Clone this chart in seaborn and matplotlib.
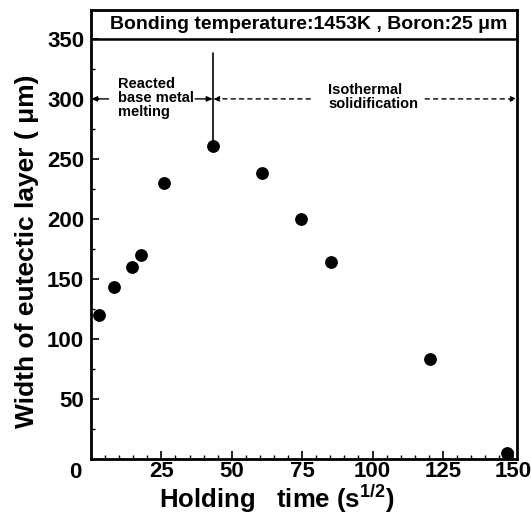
import matplotlib
matplotlib.use("Agg")
import matplotlib.pyplot as plt
import seaborn as sns
import pandas as pd
from matplotlib.ticker import MultipleLocator

# data
holding_time = [3.0, 8.2, 14.7, 17.9, 26.0, 43.3, 60.8, 74.6, 85.3, 120.5, 147.9]
width_um = [120, 143, 160, 170, 230, 261, 238, 200, 164, 83, 5]
x_ticks = [25, 50, 75, 100, 125, 150]
y_ticks = [50, 100, 150, 200, 250, 300, 350]
title_text = "Bonding temperature:1453K , Boron:25 \u03bcm"
boundary_time = 43.3
arrow_level = 300

sns.set_style("ticks")
plt.rcParams['font.family'] = ['Liberation Sans', 'DejaVu Sans']
plt.rcParams['font.weight'] = 'bold'
plt.rcParams['text.color'] = 'black'
plt.rcParams['axes.labelcolor'] = 'black'
plt.rcParams['xtick.color'] = 'black'
plt.rcParams['ytick.color'] = 'black'
plt.rcParams['mathtext.fontset'] = 'custom'
plt.rcParams['mathtext.rm'] = 'Liberation Sans:bold'
plt.rcParams['mathtext.it'] = 'Liberation Sans:bold'
plt.rcParams['mathtext.bf'] = 'Liberation Sans:bold'
plt.rcParams['mathtext.default'] = 'rm'

df = pd.DataFrame({"t": holding_time, "w": width_um})

fig = plt.figure(figsize=(5.31, 5.16), dpi=100)
ax = fig.add_axes([0.1714, 0.1105, 0.8022, 0.870])

sns.scatterplot(data=df, x="t", y="w", ax=ax, color="black", s=85,
                edgecolor="black", linewidth=0, zorder=5, clip_on=False)

ax.set_xlim(0, 151.3)
ax.set_ylim(0, 374)
ax.set_xticks(x_ticks)
ax.set_yticks(y_ticks)
ax.xaxis.set_minor_locator(MultipleLocator(5))
ax.yaxis.set_minor_locator(MultipleLocator(25))
ax.tick_params(which='both', direction='in', top=False, right=False,
               color='black', labelsize=16, labelcolor='black')
ax.tick_params(which='major', length=6, width=1.2)
ax.tick_params(which='minor', length=3, width=1.0)
ax.tick_params(axis='x', pad=1.5)
ax.tick_params(axis='y', pad=5)
for lab in ax.get_xticklabels() + ax.get_yticklabels():
    lab.set_fontweight('bold')
for sp in ax.spines.values():
    sp.set_visible(True)
    sp.set_linewidth(2.0)
    sp.set_color('black')

ax.text(-5.5, -11, "0", ha='center', va='center', fontsize=16,
        fontweight='bold', clip_on=False)

ax.set_xlabel("Holding   time (s$^{1/2}$)", fontsize=18.5, fontweight='bold')
ax.xaxis.set_label_coords(0.437, -0.089)
ax.xaxis.label.set_va('center')
ax.set_ylabel("Width of eutectic layer ( \u03bcm)", fontsize=19,
              fontweight='bold')
ax.yaxis.set_label_coords(-0.15, 0.463)
ax.yaxis.label.set_va('center')

# title box inside the axes
ax.axhline(350, color='black', linewidth=1.8)
ax.text(0.51, 362, title_text, transform=ax.get_yaxis_transform(),
        ha='center', va='center', fontsize=14, fontweight='bold')

# boundary line
ax.plot([boundary_time, boundary_time], [338, 261], color='black', linewidth=1.2)

ap_solid = dict(arrowstyle='-|>,head_length=0.35,head_width=0.15',
                color='black', linewidth=1.0, shrinkA=0, shrinkB=0)
ap_dash = dict(arrowstyle='-|>,head_length=0.35,head_width=0.15',
               color='black', linewidth=1.0, linestyle=(0, (3, 3)),
               shrinkA=0, shrinkB=0)
ax.annotate('', xy=(0, arrow_level), xytext=(6.2, arrow_level), arrowprops=ap_solid)
ax.annotate('', xy=(boundary_time, arrow_level), xytext=(37, arrow_level), arrowprops=ap_solid)
ax.annotate('', xy=(boundary_time, arrow_level), xytext=(77.9, arrow_level), arrowprops=ap_dash)
ax.annotate('', xy=(151.3, arrow_level), xytext=(118.7, arrow_level), arrowprops=ap_dash)

ax.text(9.7, arrow_level + 0.5, "Reacted\nbase metal\nmelting", ha='left', va='center',
        fontsize=10.5, fontweight='bold', linespacing=1.0)
ax.text(84.3, arrow_level + 1.5, "Isothermal\nsolidification", ha='left', va='center',
        fontsize=10.5, fontweight='bold', linespacing=1.0)

fig.savefig("out.png", dpi=100)
